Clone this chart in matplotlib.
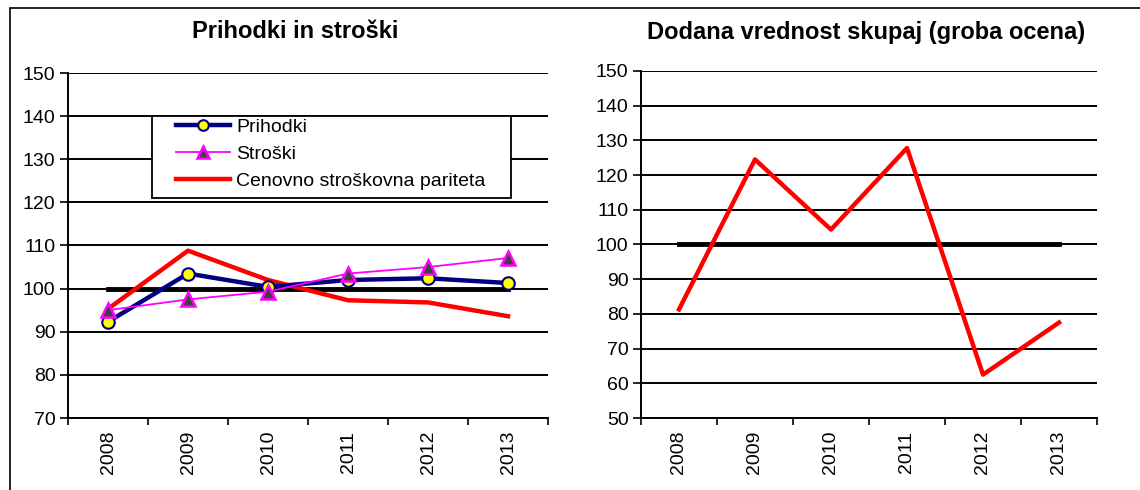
import matplotlib.pyplot as plt
from matplotlib.patches import Rectangle

plt.rcParams['font.family'] = ['Liberation Sans', 'DejaVu Sans']

years = ['2008', '2009', '2010', '2011', '2012', '2013']
prihodki = [92.3, 103.5, 100.4, 102.0, 102.4, 101.3]
stroski = [95.0, 97.5, 99.3, 103.5, 105.0, 107.1]
pariteta = [95.3, 108.8, 102.0, 97.3, 96.8, 93.6]
dodana = [81.3, 124.5, 104.3, 127.8, 62.5, 77.5]
baseline = [100, 100, 100, 100, 100, 100]

W, H = 1140, 490
fig = plt.figure(figsize=(W / 100, H / 100), dpi=100)
fig.patches.append(Rectangle((10 / W, -0.1), 1.2, 1 - 8 / H + 0.1,
                             transform=fig.transFigure, fill=False,
                             edgecolor='black', linewidth=1.2))

ax1 = fig.add_axes([68 / W, 1 - 418 / H, 480 / W, 345 / H])
ax2 = fig.add_axes([641 / W, 1 - 418 / H, 456 / W, 347 / H])

x = list(range(len(years)))


def style_axis(ax, lo, hi):
    ax.set_xlim(-0.5, len(years) - 0.5)
    ax.set_ylim(lo, hi)
    ax.set_yticks(range(lo, hi + 1, 10))
    ax.set_xticks([i - 0.5 for i in range(len(years) + 1)])
    ax.set_xticklabels([])
    ax.set_xticks(x, minor=True)
    ax.set_xticklabels(years, minor=True, rotation=90, fontsize=14)
    ax.tick_params(axis='x', which='minor', length=0, pad=9)
    ax.tick_params(axis='x', which='major', length=5, direction='out', width=1.2)
    ax.tick_params(axis='y', length=6, direction='out', labelsize=14, width=1.2, pad=3)
    ax.grid(True, axis='y', color='black', linewidth=1.4)
    ax.set_axisbelow(True)
    for s in ['top', 'right']:
        ax.spines[s].set_visible(False)
    for s in ['left', 'bottom']:
        ax.spines[s].set_linewidth(1.4)


style_axis(ax1, 70, 150)
ax1.plot(x, baseline, color='black', linewidth=3.5, zorder=3)
ax1.plot(x, prihodki, color='#000080', linewidth=3.2, marker='o',
         markersize=9, markerfacecolor='yellow', markeredgecolor='#000080',
         markeredgewidth=1.5, label='Prihodki', zorder=5)
ax1.plot(x, stroski, color='#ff00ff', linewidth=1.3, marker='^',
         markersize=10, markerfacecolor='#404040', markeredgecolor='#ff00ff',
         markeredgewidth=1.8, label='Stroški', zorder=6)
ax1.plot(x, pariteta, color='#ff0000', linewidth=3.2, label='Cenovno stroškovna pariteta', zorder=4)

# legend box drawn separately so its padding matches
box = Rectangle((152 / W, 1 - 198 / H), 359 / W, 82 / H,
                transform=fig.transFigure, facecolor='white',
                edgecolor='black', linewidth=1.3, zorder=7)
box.set_clip_on(False)
ax1.add_artist(box)
leg = ax1.legend(loc='upper left', bbox_to_anchor=(176 / W, 1 - 118 / H),
                 bbox_transform=fig.transFigure, fontsize=14, frameon=False,
                 borderpad=0, borderaxespad=0, handlelength=2.8,
                 handletextpad=0.3, labelspacing=0.48, markerscale=0.85)
leg.set_zorder(8)

style_axis(ax2, 50, 150)
ax2.plot(x, baseline, color='black', linewidth=3.5, zorder=3)
ax2.plot(x, dodana, color='#ff0000', linewidth=3.2, zorder=4)

fig.text(295 / W, 1 - 32 / H, 'Prihodki in stroški', fontsize=17,
         fontweight='bold', ha='center', va='center')
fig.text(866 / W, 1 - 32 / H, 'Dodana vrednost skupaj (groba ocena)', fontsize=17,
         fontweight='bold', ha='center', va='center')

fig.savefig('out.png', dpi=100)
